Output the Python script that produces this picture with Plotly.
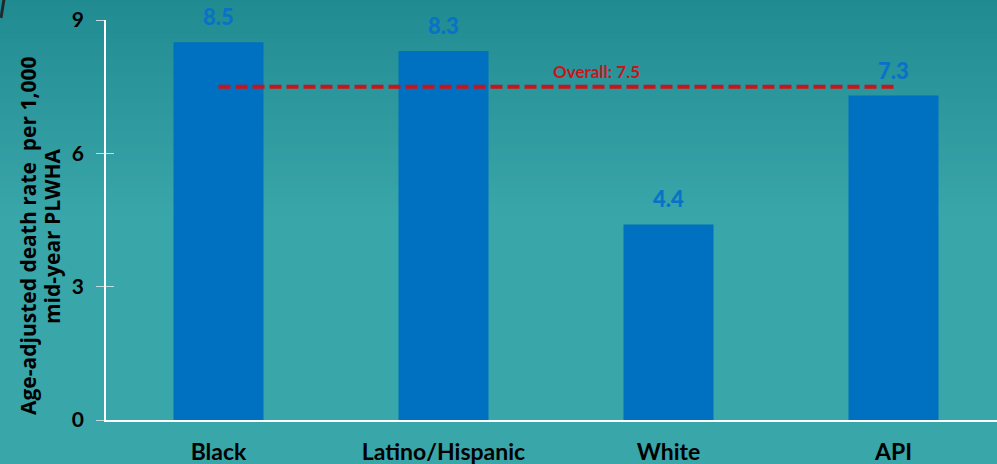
import plotly.graph_objects as go

categories = ["Black", "Latino/Hispanic", "White", "API"]
rates = [8.5, 8.3, 4.4, 7.3]
rate_labels = ["8.5", "8.3", "4.4", "7.3"]
overall = 7.5
overall_label = "Overall: 7.5"
y_ticks = [0, 3, 6, 9]
title_line1 = "Age-adjusted death rate  per 1,000"
title_line2 = "mid-year PLWHA"

FONT = "Lato"
W, H = 997, 464
L, R, T, B = 106, 0, 20, 44
PW, PH = W - L - R, H - T - B


def px_x(px):
    return (px - L) / PW


def px_y(py):
    return (H - B - py) / PH


fig = go.Figure()

# background gradient bands
top = (0x21, 0x8B, 0x92)
bot = (0x39, 0xA6, 0xA9)
n = 40
span = 220.0
for i in range(n):
    f = i / (n - 1)
    c = tuple(int(round(top[k] + (bot[k] - top[k]) * f)) for k in range(3))
    y_top = i * span / n
    y_bot = (i + 1) * span / n + 1
    fig.add_shape(type="rect", xref="paper", yref="paper", x0=px_x(-5), x1=px_x(W + 5),
                  y0=px_y(y_bot), y1=px_y(y_top), fillcolor="rgb(%d,%d,%d)" % c,
                  line_width=0, layer="below")

# dark corner mark at top-left
fig.add_shape(type="line", xref="paper", yref="paper", x0=px_x(1), x1=px_x(4),
              y0=px_y(18), y1=px_y(-1), line=dict(color="#1e2a2c", width=3), layer="below")

fig.add_trace(go.Bar(
    x=categories, y=rates, marker_color="#0070C0", marker_line_width=0, width=0.4,
    showlegend=False, hoverinfo="skip"))

for c, v, t in zip(categories, rates, rate_labels):
    fig.add_annotation(x=c, y=v, xref="x", yref="y", yanchor="bottom", yshift=10,
                       text=t, showarrow=False,
                       font=dict(family=FONT, size=22, color="#0A72C6", weight=900))

fig.add_trace(go.Scatter(
    x=[categories[0], categories[-1]], y=[overall, overall], mode="lines",
    line=dict(color="#C8141A", width=4, dash="12px,5px"), showlegend=False,
    hoverinfo="skip"))

fig.add_annotation(x=1.68, y=overall, xref="x", yref="y", yshift=15,
                   text=overall_label, showarrow=False,
                   xanchor="center",
                   font=dict(family=FONT, size=17, color="#C8141A", weight="bold"))

# y axis title (two lines)
fig.add_annotation(xref="paper", yref="paper", x=px_x(28), y=px_y(236),
                   text=title_line1,
                   textangle=-90, showarrow=False, xanchor="center", yanchor="middle",
                   font=dict(family="Open Sans", size=21, color="black", weight="bold"))
fig.add_annotation(xref="paper", yref="paper", x=px_x(52), y=px_y(236),
                   text=title_line2,
                   textangle=-90, showarrow=False, xanchor="center", yanchor="middle",
                   font=dict(family="Open Sans", size=21, color="black", weight="bold"))

fig.update_layout(
    width=W, height=H,
    margin=dict(l=L, r=R, t=T, b=B),
    paper_bgcolor="#39A6A9", plot_bgcolor="rgba(0,0,0,0)",
    bargap=0.6,
    xaxis=dict(range=[-0.5, 3.46], showgrid=False, showline=True, linecolor="white",
               linewidth=1.5, ticks="", tickfont=dict(family=FONT, size=23, color="black",
                                                      weight="bold"),
               ticklabelstandoff=11),
    yaxis=dict(range=[0, 9], tickvals=y_ticks, showgrid=False, zeroline=False,
               showline=True, linecolor="white", linewidth=1.5,
               ticks="outside", ticklen=8, tickcolor="#BFDDE0", tickwidth=1,
               tickfont=dict(family=FONT, size=21, color="black", weight="bold"),
               ticklabelstandoff=8),
    yaxis2=dict(range=[0, 9], tickvals=y_ticks, overlaying="y", side="left",
                showgrid=False, ticks="inside", ticklen=8, tickcolor="#BFDDE0",
                showticklabels=False, showline=False, zeroline=False),
)
fig.add_trace(go.Scatter(x=[categories[0]], y=[None], yaxis="y2", showlegend=False,
                         hoverinfo="skip"))

fig.write_html("out.html")
